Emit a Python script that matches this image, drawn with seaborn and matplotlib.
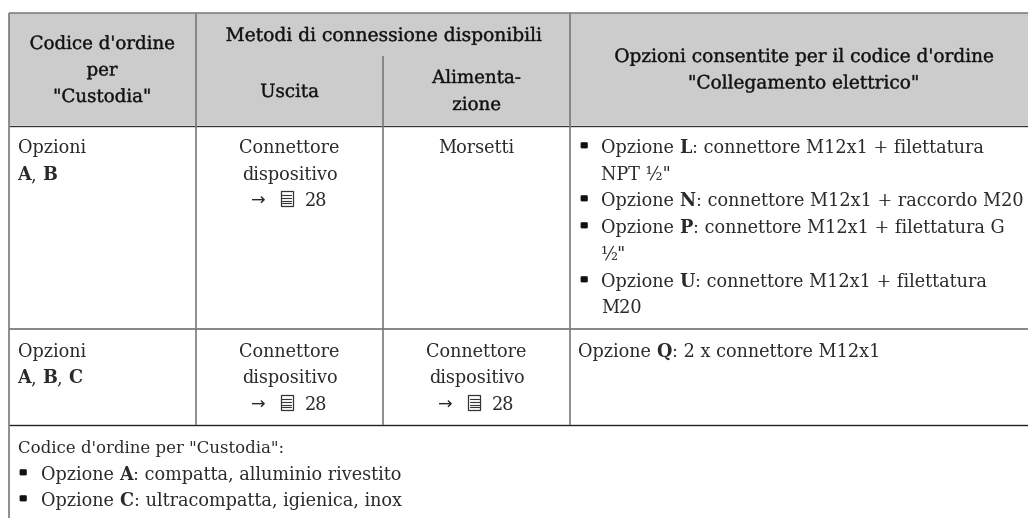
import matplotlib
matplotlib.use("Agg")
import matplotlib.pyplot as plt
from matplotlib.patches import Rectangle, FancyBboxPatch
import matplotlib.patheffects as pe
import seaborn as sns

# ---- table content ----
header_order = ["Codice d'ordine", "per", '"Custodia"']
header_group = "Metodi di connessione disponibili"
header_output = "Uscita"
header_power = ["Alimenta-", "zione"]
header_allowed = ["Opzioni consentite per il codice d'ordine", '"Collegamento elettrico"']
word_options = "Opzioni"
row1_keys = [("A", True), (", ", False), ("B", True)]
row2_keys = [("A", True), (", ", False), ("B", True), (", ", False), ("C", True)]
device = ["Connettore", "dispositivo"]
page_ref = "28"
terminals = "Morsetti"
row1_items = [
    ("L", ': connettore M12x1 + filettatura', 'NPT ½"'),
    ("N", ': connettore M12x1 + raccordo M20', None),
    ("P", ': connettore M12x1 + filettatura G', '½"'),
    ("U", ': connettore M12x1 + filettatura', 'M20'),
]
row2_item = [("Opzione ", False), ("Q", True), (": 2 x connettore M12x1", False)]
foot_title = 'Codice d\'ordine per "Custodia":'
foot_items = [("A", ": compatta, alluminio rivestito"), ("C", ": ultracompatta, igienica, inox")]

# ---- style ----
sns.set_theme(style="white")
FONT = "DejaVu Serif"
FS = 12.7
HFS = 13.1
INK = "#2a2a2a"
W, H = 1028, 518
fig = plt.figure(figsize=(W / 100, H / 100), dpi=100)
ax = fig.add_axes([0, 0, 1, 1])
ax.set_xlim(0, W)
ax.set_ylim(H, 0)
ax.axis("off")
sns.despine(ax=ax, left=True, bottom=True)
renderer = fig.canvas.get_renderer()
HEAVY = [pe.Stroke(linewidth=0.3, foreground="#111111")]


def put(x, y, s, ha="left", bold=False, fs=FS, color=INK):
    return ax.text(x, y, s, ha=ha, va="baseline", family=FONT, fontsize=fs,
                   fontweight="bold" if bold else "normal", color=color)


def head(x, y, s, fs=HFS):
    t = put(x, y, s, ha="center", fs=fs, color="#111111")
    t.set_path_effects(HEAVY)
    return t


def width(s, bold=False, fs=FS):
    t = put(0, 0, s.replace(" ", "\u00a0"), bold=bold, fs=fs)
    w = t.get_window_extent(renderer).width
    t.remove()
    return w


def rich(x, y, parts):
    for s, b in parts:
        s2 = s.replace(" ", "\u00a0")
        put(x, y, s2, bold=b)
        x += width(s, b)


def bullet(x, y):
    ax.add_patch(FancyBboxPatch((x - 2.8, y - 10.2), 6, 5,
                                boxstyle="round,pad=0.6,rounding_size=1.2",
                                fc="#111111", ec="none"))


def doc_ref(x_arrow, y, x_icon, x_num):
    ax.text(x_arrow, y, "→", family="DejaVu Sans", fontsize=12.6, color=INK, va="baseline")
    ax.add_patch(Rectangle((x_icon, y - 15), 12, 15, fc="white", ec="#333333", lw=0.9))
    for dy in (3.5, 7, 9.5, 12):
        ax.plot([x_icon + 1.5, x_icon + 10.5], [y - 15 + dy] * 2, color="#333333", lw=0.8)
    put(x_num, y, page_ref)


# ---- cells ----
ax.add_patch(Rectangle((9, 13), W - 9, 112, fc="#cccccc", ec="none"))

gray = "#7a7a7a"
ax.hlines(13, 9, W, color=gray, lw=1.1)
ax.hlines(125.5, 9, W, color="#333333", lw=1.0)
ax.hlines(329, 9, W, color="#666666", lw=1.1)
ax.hlines(425, 9, W, color="#222222", lw=1.0)
ax.vlines(9, 13, H, color=gray, lw=1.2)
ax.vlines(196, 13, 425, color=gray, lw=1.2)
ax.vlines(570, 13, 425, color=gray, lw=1.2)
ax.vlines(383, 56, 425, color=gray, lw=1.2)

# header
for y, s in zip((49, 75.5, 102), header_order):
    head(102, y, s)
head(383, 41, header_group, fs=13.4)
head(289.5, 97, header_output)
for y, s in zip((83, 110), header_power):
    head(476.5, y, s)
for y, s in zip((62, 88.5), header_allowed):
    head(803.5, y, s, fs=13.3)

# row 1
put(18, 153, word_options)
rich(17, 180, row1_keys)
put(289.5, 153, device[0], ha="center")
put(289.5, 180, device[1], ha="center")
doc_ref(251, 206, 280.5, 305)
put(476.5, 153, terminals, ha="center")

ys = iter((153, 180, 206, 233, 260, 287, 313))
for key, rest, extra in row1_items:
    y = next(ys)
    bullet(584, y)
    rich(601, y, [("Opzione ", False), (key, True), (rest, False)])
    if extra:
        put(601, next(ys), extra)

# row 2
put(18, 357, word_options)
rich(17, 383, row2_keys)
put(289.5, 357, device[0], ha="center")
put(289.5, 383, device[1], ha="center")
doc_ref(251, 410, 280.5, 305)
put(476.5, 357, device[0], ha="center")
put(476.5, 383, device[1], ha="center")
doc_ref(438, 410, 468, 492)
rich(578, 357, row2_item)

# footer
put(18, 453, foot_title, fs=11.9)
for y, (key, rest) in zip((480, 506), foot_items):
    bullet(23, y)
    rich(41, y, [("Opzione ", False), (key, True), (rest, False)])

fig.savefig("out.png", dpi=100, facecolor="white")
